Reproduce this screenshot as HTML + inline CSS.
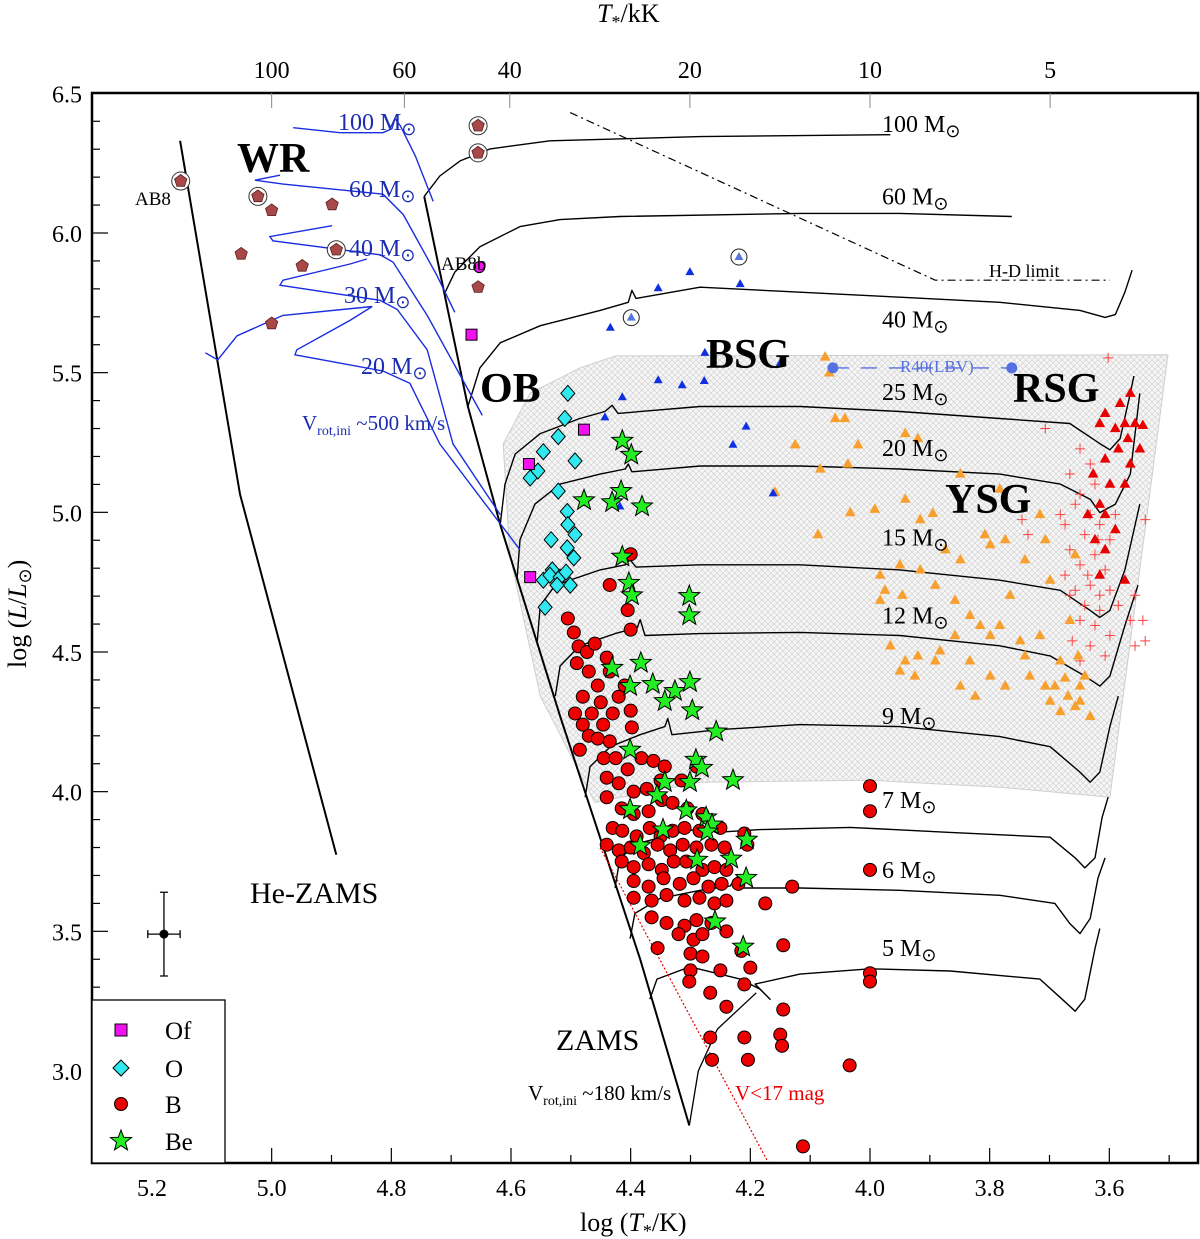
<!DOCTYPE html>
<html><head><meta charset="utf-8"><title>HR diagram</title>
<style>
html,body{margin:0;padding:0;background:#fff;}
svg{display:block;font-family:"Liberation Serif",serif;}
</style></head>
<body>
<svg id="chart" width="1200" height="1239" viewBox="0 0 1200 1239" xmlns="http://www.w3.org/2000/svg">
<defs>
<pattern id="hatch" width="6" height="6" patternUnits="userSpaceOnUse">
<rect width="6" height="6" fill="#f6f6f6"/>
<path d="M0,0L6,6M6,0L0,6" stroke="#d4d4d4" stroke-width="0.7"/>
</pattern>
<clipPath id="plotclip"><rect x="92" y="93" width="1106" height="1070"/></clipPath>
</defs>
<g id="plot" clip-path="url(#plotclip)"></g>
<g id="axes"></g>
<g id="labels"></g>
</svg>
<script>
// ---------- data (logT, logL) ----------
var ticksX = [5.2, 5.0, 4.8, 4.6, 4.4, 4.2, 4.0, 3.8, 3.6];
var ticksXLabels = ["5.2","5.0","4.8","4.6","4.4","4.2","4.0","3.8","3.6"];
var ticksY = [6.5, 6.0, 5.5, 5.0, 4.5, 4.0, 3.5, 3.0];
var ticksYLabels = ["6.5","6.0","5.5","5.0","4.5","4.0","3.5","3.0"];
var topTicksK = [100, 60, 40, 20, 10, 5];

var hatchRegion = [[4.425,5.560],[3.502,5.564],[3.599,3.980],[3.783,4.016],[4.0,4.041],[4.284,4.034],[4.460,3.962],[4.551,4.342],[4.602,4.848],[4.613,5.245],[4.568,5.426],[4.485,5.517]];

var zams = [[4.745,6.131],[4.672,5.379],[4.618,4.956],[4.518,4.27],[4.384,3.40],[4.302,2.805]];
var heZams = [[5.153,6.33],[5.053,5.065],[4.892,3.774]];
var lowTrack = [[4.302,2.805],[4.287,3.0],[4.255,3.15],[4.19,3.28]];

var trackNames = ["100","60","40","25","20","15","12","9","7","6","5"];
var tr100 = [[4.745,6.131],[4.719,6.204],[4.685,6.258],[4.635,6.301],[4.535,6.330],[4.284,6.345],[3.966,6.352]];
var tr60 = [[4.710,5.788],[4.694,5.860],[4.652,5.951],[4.585,6.023],[4.518,6.048],[4.418,6.059],[4.117,6.070],[3.950,6.070],[3.763,6.059]];
var tr40 = [[4.672,5.379],[4.652,5.517],[4.618,5.607],[4.551,5.668],[4.451,5.723],[4.404,5.752],[4.398,5.795],[4.391,5.766],[4.284,5.806],[4.117,5.788],[3.950,5.770],[3.783,5.752],[3.649,5.723],[3.607,5.698],[3.590,5.708],[3.574,5.788],[3.562,5.867]];
var tr25 = [[4.618,4.956],[4.610,5.101],[4.593,5.209],[4.551,5.282],[4.485,5.336],[4.443,5.361],[4.431,5.383],[4.421,5.354],[4.284,5.379],[4.117,5.379],[3.950,5.361],[3.783,5.336],[3.666,5.318],[3.616,5.246],[3.599,5.224],[3.582,5.264],[3.565,5.426],[3.559,5.488]];
var tr20 = [[4.590,4.757],[4.585,4.902],[4.560,5.029],[4.518,5.101],[4.451,5.137],[4.409,5.155],[4.404,5.173],[4.398,5.145],[4.284,5.166],[4.117,5.166],[3.950,5.155],[3.783,5.137],[3.682,5.101],[3.632,5.047],[3.616,4.999],[3.590,5.029],[3.565,5.137],[3.549,5.426]];
var tr15 = [[4.556,4.540],[4.551,4.667],[4.526,4.739],[4.451,4.794],[4.409,4.812],[4.401,4.830],[4.391,4.804],[4.284,4.812],[4.117,4.812],[3.950,4.794],[3.783,4.757],[3.682,4.721],[3.632,4.649],[3.616,4.624],[3.599,4.649],[3.574,4.794],[3.549,5.029]];
var tr12 = [[4.526,4.342],[4.518,4.450],[4.485,4.522],[4.426,4.566],[4.389,4.587],[4.384,4.616],[4.376,4.559],[4.284,4.566],[4.117,4.570],[3.950,4.559],[3.783,4.522],[3.699,4.486],[3.641,4.414],[3.616,4.378],[3.599,4.414],[3.574,4.595],[3.552,4.739]];
var tr9 = [[4.476,3.980],[4.468,4.089],[4.434,4.161],[4.384,4.204],[4.343,4.233],[4.338,4.262],[4.331,4.204],[4.251,4.222],[4.117,4.240],[3.950,4.233],[3.783,4.197],[3.699,4.161],[3.649,4.070],[3.632,4.034],[3.616,4.070],[3.599,4.233],[3.585,4.342]];
var tr7 = [[4.426,3.655],[4.418,3.763],[4.384,3.817],[4.317,3.854],[4.276,3.872],[4.267,3.901],[4.259,3.854],[4.184,3.864],[4.033,3.872],[3.866,3.854],[3.699,3.837],[3.657,3.763],[3.641,3.727],[3.624,3.763],[3.612,3.908],[3.602,3.980]];
var tr6 = [[4.401,3.474],[4.393,3.564],[4.351,3.618],[4.284,3.647],[4.234,3.662],[4.221,3.698],[4.217,3.655],[4.117,3.655],[3.950,3.647],[3.783,3.629],[3.691,3.600],[3.666,3.528],[3.649,3.492],[3.632,3.546],[3.619,3.691],[3.607,3.763]];
var tr5 = [[4.368,3.257],[4.356,3.329],[4.301,3.373],[4.217,3.329],[4.184,3.293],[4.167,3.257],[4.192,3.311],[4.117,3.347],[4.0,3.366],[3.866,3.358],[3.716,3.329],[3.679,3.257],[3.657,3.214],[3.641,3.257],[3.624,3.438],[3.616,3.510]];

var rot100 = [[4.964,6.377],[4.886,6.359],[4.814,6.359],[4.799,6.373],[4.794,6.410],[4.785,6.384],[4.760,6.276],[4.730,6.113]];
var rot60 = [[4.986,6.207],[5.028,6.189],[4.981,6.175],[4.814,6.139],[4.780,6.066],[4.724,5.849],[4.694,5.716]];
var rot40 = [[4.899,6.026],[5.003,5.987],[4.998,5.972],[4.819,5.922],[4.797,5.896],[4.740,5.705],[4.648,5.347]];
var rot30 = [[4.841,5.907],[4.869,5.889],[4.981,5.831],[4.986,5.813],[4.819,5.759],[4.790,5.726],[4.740,5.582],[4.697,5.245],[4.618,4.992]];
var rot20 = [[5.111,5.571],[5.090,5.546],[5.058,5.632],[4.981,5.705],[4.832,5.737],[4.869,5.687],[4.897,5.654],[4.958,5.582],[4.961,5.564],[4.814,5.506],[4.769,5.462],[4.719,5.245],[4.585,4.866]];

var hdLimit = [[4.501,6.431],[3.891,5.831],[3.599,5.831]];
var vLimit = [[4.451,3.799],[4.170,2.672]];

var ofT = [4.666,4.478,4.570,4.568];
var ofL = [5.636,5.296,5.173,4.768];

var oT = [4.505,4.510,4.546,4.521,4.493,4.568,4.521,4.555,4.506,4.505,4.493,4.533,4.506,4.495,4.531,4.546,4.535,4.518,4.508,4.501,4.523,4.543];
var oL = [5.426,5.336,5.217,5.271,5.184,5.123,5.076,5.148,5.003,4.956,4.920,4.902,4.873,4.837,4.794,4.757,4.775,4.768,4.786,4.739,4.739,4.660];

var bT = [4.40,4.435,4.405,4.40,4.505,4.495,4.487,4.473,4.46,4.49,4.47,4.44,4.435,4.455,4.48,4.45,4.42,4.41,4.493,4.48,4.465,4.446,4.43,4.40,4.398,4.47,4.455,4.435,4.485,4.445,4.425,4.405,4.382,4.362,4.343,4.44,4.42,4.395,4.373,4.35,4.315,4.29,4.44,4.415,4.395,4.37,4.348,4.33,4.305,4.28,4.43,4.414,4.39,4.368,4.35,4.33,4.31,4.285,4.25,4.21,4.44,4.42,4.40,4.378,4.355,4.334,4.313,4.29,4.265,4.243,4.205,4.415,4.395,4.37,4.348,4.328,4.307,4.28,4.26,4.24,4.395,4.37,4.345,4.318,4.295,4.27,4.248,4.22,4.395,4.365,4.34,4.31,4.285,4.26,4.24,4.175,4.13,4.365,4.34,4.31,4.29,4.265,4.32,4.295,4.28,4.24,4.355,4.30,4.28,4.215,4.145,4.30,4.25,4.20,4.302,4.267,4.21,4.24,4.145,4.267,4.21,4.15,4.264,4.204,4.147,4.034,4.112,4.0,4.0,4.0,4.0,4.0];
var bL = [4.85,4.74,4.65,4.58,4.62,4.57,4.52,4.50,4.53,4.46,4.43,4.48,4.43,4.38,4.34,4.32,4.34,4.38,4.28,4.24,4.28,4.24,4.28,4.29,4.23,4.20,4.19,4.18,4.15,4.12,4.12,4.08,4.12,4.11,4.09,4.05,4.03,4.00,4.01,4.04,4.04,4.09,3.98,3.94,3.92,3.93,3.97,3.96,3.94,3.92,3.87,3.86,3.84,3.87,3.84,3.86,3.87,3.86,3.87,3.85,3.81,3.79,3.80,3.78,3.81,3.79,3.81,3.80,3.81,3.80,3.81,3.75,3.73,3.74,3.72,3.75,3.75,3.72,3.73,3.72,3.68,3.66,3.69,3.67,3.69,3.66,3.67,3.67,3.62,3.61,3.63,3.61,3.62,3.60,3.61,3.60,3.66,3.55,3.53,3.52,3.54,3.53,3.49,3.47,3.49,3.50,3.44,3.42,3.41,3.43,3.45,3.36,3.36,3.37,3.32,3.28,3.31,3.23,3.22,3.12,3.12,3.13,3.04,3.04,3.09,3.02,2.73,4.02,3.93,3.72,3.35,3.32];

var beT = [4.414,4.399,4.478,4.431,4.416,4.381,4.414,4.403,4.398,4.302,4.302,4.383,4.431,4.401,4.363,4.326,4.301,4.343,4.297,4.257,4.401,4.291,4.281,4.229,4.301,4.343,4.356,4.401,4.307,4.274,4.346,4.264,4.272,4.206,4.384,4.289,4.232,4.207,4.259,4.212];
var beL = [5.256,5.206,5.043,5.036,5.076,5.021,4.841,4.747,4.703,4.700,4.631,4.461,4.443,4.378,4.385,4.360,4.392,4.324,4.291,4.215,4.150,4.114,4.085,4.041,4.034,4.034,3.987,3.937,3.933,3.908,3.864,3.882,3.857,3.828,3.807,3.756,3.760,3.691,3.535,3.445];

var bsgT = [4.434,4.401,4.354,4.301,4.217,4.443,4.414,4.354,4.314,4.277,4.276,4.150,4.207,4.229,4.162,4.418];
var bsgL = [5.661,5.708,5.802,5.860,5.817,5.340,5.412,5.473,5.455,5.470,5.571,5.535,5.307,5.242,5.068,5.021];
var bsgCircledT = [4.219,4.399];
var bsgCircledL = [5.914,5.697];

var lbvT = [4.062,3.763];
var lbvL = [5.517,5.517];

var wrT = [5.152,5.023,5.0,4.899,5.051,4.949,4.892,5.0,4.655,4.655,4.655];
var wrL = [6.186,6.131,6.081,6.102,5.925,5.882,5.940,5.676,5.806,6.384,6.287];
var wrCircled = [1,1,0,0,0,0,1,0,0,1,1];

var ab8bT = [4.653];
var ab8bL = [5.878];

var ysgT = [4.075,4.068,4.058,4.042,4.125,4.020,3.941,3.920,4.083,4.037,3.992,4.159,4.087,4.033,3.941,3.916,3.895,3.849,3.783,3.716,3.799,3.774,3.741,3.849,3.874,3.950,3.983,3.975,3.946,3.916,3.983,3.858,3.833,3.816,3.799,3.783,3.749,3.716,3.858,3.883,3.920,3.941,3.966,3.950,3.925,3.891,3.833,3.799,3.774,3.741,3.733,3.707,3.849,3.824,3.699,3.666,3.682,3.691,3.669,3.657,3.682,3.649,3.641,3.632,3.674,3.652,3.699,3.649,3.766,3.891,3.808,3.707,3.657];
var ysgL = [5.556,5.499,5.336,5.336,5.242,5.242,5.282,5.264,5.155,5.173,5.011,5.072,4.920,4.999,5.047,4.974,4.996,5.137,5.083,4.992,4.884,4.902,4.830,4.830,4.866,4.812,4.775,4.721,4.703,4.794,4.685,4.685,4.631,4.595,4.559,4.595,4.540,4.559,4.559,4.504,4.486,4.468,4.522,4.432,4.414,4.468,4.468,4.414,4.378,4.486,4.414,4.378,4.378,4.342,4.757,4.613,4.468,4.378,4.342,4.305,4.287,4.378,4.414,4.269,4.407,4.486,4.324,4.324,4.703,4.739,4.920,4.902,4.848];

var rsgT = [3.565,3.582,3.607,3.616,3.590,3.574,3.557,3.544,3.569,3.585,3.549,3.607,3.565,3.627,3.599,3.574,3.616,3.636,3.607,3.590,3.624,3.607,3.574,3.616];
var rsgL = [5.426,5.390,5.354,5.318,5.300,5.318,5.318,5.311,5.264,5.227,5.227,5.191,5.173,5.137,5.101,5.101,5.029,4.992,4.992,4.938,4.902,4.866,4.757,4.775];

var crossT = [3.602,3.707,3.649,3.632,3.666,3.624,3.649,3.657,3.632,3.616,3.674,3.641,3.599,3.666,3.624,3.649,3.607,3.674,3.632,3.599,3.666,3.641,3.616,3.649,3.624,3.599,3.662,3.632,3.607,3.649,3.565,3.544,3.557,3.540,3.746,3.736,3.657,3.616,3.636,3.619,3.590,3.682,3.540,3.557,3.585];
var crossL = [5.553,5.300,5.227,5.173,5.137,5.101,5.065,5.029,4.992,4.956,4.956,4.920,4.902,4.866,4.848,4.812,4.794,4.775,4.739,4.721,4.703,4.667,4.649,4.613,4.595,4.559,4.540,4.522,4.486,4.468,4.613,4.613,4.522,4.540,4.974,4.920,4.721,4.703,4.775,4.902,4.992,4.992,4.974,4.703,4.667];

var errT = [5.18]; var errL = [3.49];
var errDx = [0.027]; var errDy = [0.15];

// ---------- axis functions ----------
function X(t){ return 152 + (5.2 - t) * 598.33; }
function Y(l){ return 233 + (6.0 - l) * 279.33; }
var NS = "http://www.w3.org/2000/svg";
function mk(tag, parent, attrs){
  var e = document.createElementNS(NS, tag);
  for (var k in attrs) e.setAttribute(k, attrs[k]);
  parent.appendChild(e); return e;
}
var plot = document.getElementById("plot");
var axes = document.getElementById("axes");
var labels = document.getElementById("labels");
function pathD(pts){ return pts.map(function(p,i){ return (i?"L":"M")+X(p[0]).toFixed(1)+","+Y(p[1]).toFixed(1); }).join(""); }

var el;
// hatched region
el = mk("path", plot, {d: pathD(hatchRegion)+"Z", fill:"url(#hatch)", stroke:"#cfcfcf", "stroke-width":"1"});



// black lines
el = mk("path", plot, {d: pathD(zams), fill:"none", stroke:"#000", "stroke-width":"2"});


el = mk("path", plot, {d: pathD(heZams), fill:"none", stroke:"#000", "stroke-width":"2"});


el = mk("path", plot, {d: pathD(lowTrack), fill:"none", stroke:"#000", "stroke-width":"1.3"});



var tracks = [tr100,tr60,tr40,tr25,tr20,tr15,tr12,tr9,tr7,tr6,tr5];
tracks.forEach(function(tr, i){
  var p = mk("path", plot, {d: pathD(tr), fill:"none", stroke:"#000", "stroke-width":"1.4", "stroke-linejoin":"round"});
  
  
});
var rotTracks = [rot100, rot60, rot40, rot30, rot20];
var rotNames = ["100","60","40","30","20"];
rotTracks.forEach(function(tr, i){
  var p = mk("path", plot, {d: pathD(tr), fill:"none", stroke:"#1a2de0", "stroke-width":"1.4"});
  
  
});
el = mk("path", plot, {d: pathD(hdLimit), fill:"none", stroke:"#000", "stroke-width":"1.2", "stroke-dasharray":"8,4,2,4"});


el = mk("path", plot, {d: pathD(vLimit), fill:"none", stroke:"#e00", "stroke-width":"1.2", "stroke-dasharray":"2,2"});


el = mk("line", plot, {x1:X(lbvT[0]), y1:Y(lbvL[0]), x2:X(lbvT[1]), y2:Y(lbvL[1]), stroke:"#5570e0", "stroke-width":"1.3", "stroke-dasharray":"16,12"});



// markers
function tri(x,y,s){ return "M"+x+","+(y-s)+"L"+(x+s*0.9)+","+(y+s*0.6)+"L"+(x-s*0.9)+","+(y+s*0.6)+"Z"; }
function star(x,y,r){ var d=""; for(var i=0;i<10;i++){ var a=-Math.PI/2+i*Math.PI/5; var rr=i%2?r*0.42:r; d+=(i?"L":"M")+(x+rr*Math.cos(a)).toFixed(1)+","+(y+rr*Math.sin(a)).toFixed(1);} return d+"Z"; }
function pent(x,y,r){ var d=""; for(var i=0;i<5;i++){ var a=-Math.PI/2+i*2*Math.PI/5; d+=(i?"L":"M")+(x+r*Math.cos(a)).toFixed(1)+","+(y+r*Math.sin(a)).toFixed(1);} return d+"Z"; }

crossT.forEach(function(t,i){
  var x=X(t), y=Y(crossL[i]);
  var c = mk("path", plot, {d:"M"+(x-5)+","+y+"H"+(x+5)+"M"+x+","+(y-5)+"V"+(y+5), stroke:"#ff4040", "stroke-width":"1", fill:"none"});
  
  
});
ysgT.forEach(function(t,i){
  var m = mk("path", plot, {d:tri(X(t),Y(ysgL[i]),6), fill:"#f7a030"});
  
  
});
rsgT.forEach(function(t,i){
  var m = mk("path", plot, {d:tri(X(t),Y(rsgL[i]),6), fill:"#e80000"});
  
  
});
bsgT.forEach(function(t,i){
  var m = mk("path", plot, {d:tri(X(t),Y(bsgL[i]),5), fill:"#1030e0"});
  
  
});
bsgCircledT.forEach(function(t,i){
  var x=X(t), y=Y(bsgCircledL[i]);
  var c = mk("circle", plot, {cx:x, cy:y, r:8, fill:"#fff", stroke:"#222", "stroke-width":"1"});
  
  
  var m = mk("path", plot, {d:tri(x,y,5), fill:"#5577dd"});
  
  
});
lbvT.forEach(function(t,i){
  var m = mk("circle", plot, {cx:X(t), cy:Y(lbvL[i]), r:5.5, fill:"#5570e0"});
  
  
});
bT.forEach(function(t,i){
  var m = mk("circle", plot, {cx:X(t), cy:Y(bL[i]), r:6.5, fill:"#ee0000", stroke:"#000", "stroke-width":"1"});
  
  
});
oT.forEach(function(t,i){
  var x=X(t), y=Y(oL[i]);
  var m = mk("path", plot, {d:"M"+x+","+(y-8)+"L"+(x+7)+","+y+"L"+x+","+(y+8)+"L"+(x-7)+","+y+"Z", fill:"#30e8f0", stroke:"#000", "stroke-width":"1"});
  
  
});
ofT.forEach(function(t,i){
  var m = mk("rect", plot, {x:X(t)-5.5, y:Y(ofL[i])-5.5, width:11, height:11, fill:"#f010f0", stroke:"#000", "stroke-width":"1"});
  
  
});
beT.forEach(function(t,i){
  var m = mk("path", plot, {d:star(X(t),Y(beL[i]),11), fill:"#22ee22", stroke:"#000", "stroke-width":"1"});
  
  
});
wrT.forEach(function(t,i){
  var x=X(t), y=Y(wrL[i]);
  if (wrCircled[i]) {
    var c = mk("circle", plot, {cx:x, cy:y, r:9, fill:"#fff", stroke:"#333", "stroke-width":"1"});
    
    
  }
  var m = mk("path", plot, {d:pent(x,y,6.5), fill:"#a84848", stroke:"#5a2020", "stroke-width":"0.8"});
  
  
});
ab8bT.forEach(function(t,i){
  var m = mk("circle", plot, {cx:X(t), cy:Y(ab8bL[i]), r:5.5, fill:"#f010f0", stroke:"#000", "stroke-width":"1"});
  
  
});
// error bar
errT.forEach(function(t,i){
  var x=X(t), y=Y(errL[i]);
  var p = mk("path", plot, {d:"M"+(X(t+errDx[i]))+","+y+"H"+X(t-errDx[i])+"M"+x+","+Y(errL[i]+errDy[i])+"V"+Y(errL[i]-errDy[i])+"M"+(X(t+errDx[i]))+","+(y-4)+"v8M"+X(t-errDx[i])+","+(y-4)+"v8M"+(x-4)+","+Y(errL[i]+errDy[i])+"h8M"+(x-4)+","+Y(errL[i]-errDy[i])+"h8", stroke:"#000", "stroke-width":"1.3", fill:"none"});
  
  
  var c = mk("circle", plot, {cx:x, cy:y, r:4.5, fill:"#000"});
  
  
});

// axes frame
el = mk("rect", axes, {x:92, y:93, width:1106, height:1070, fill:"none", stroke:"#000", "stroke-width":"2.5"});


// bottom ticks
ticksX.forEach(function(t,i){
  var x=X(t);
  var tk = mk("line", axes, {x1:x, y1:1163, x2:x, y2:1148, stroke:"#000", "stroke-width":"1.2"});
  
  
  var mx = X(t-0.1);
  if (mx < 1198) {
    var mt = mk("line", axes, {x1:mx, y1:1163, x2:mx, y2:1155, stroke:"#000", "stroke-width":"1.2"});
    
    
  }
  var mx2 = X(t+0.1);
  if (i===0 && mx2 > 92) {
    var mt2 = mk("line", axes, {x1:mx2, y1:1163, x2:mx2, y2:1155, stroke:"#000", "stroke-width":"1.2"});
    
    
  }
  var lb = mk("text", labels, {x:x, y:1196, "font-size":"24", "text-anchor":"middle"});
  lb.textContent = ticksXLabels[i];
  
  
});
// left ticks
ticksY.forEach(function(l,i){
  var y=Y(l);
  var tk = mk("line", axes, {x1:92, y1:y, x2:108, y2:y, stroke:"#000", "stroke-width":"1.2"});
  
  
  for (var k=1;k<5;k++){
    var my = Y(l-0.1*k);
    if (my < 1162) {
      var mt = mk("line", axes, {x1:92, y1:my, x2:100, y2:my, stroke:"#000", "stroke-width":"1.2"});
      
      
    }
  }
  var lb = mk("text", labels, {x:82, y:y+9, "font-size":"24", "text-anchor":"end"});
  lb.textContent = ticksYLabels[i];
  
  
});
// top ticks (kK)
topTicksK.forEach(function(k){
  var x = X(Math.log10(k*1000));
  var tk = mk("line", axes, {x1:x, y1:93, x2:x, y2:108, stroke:"#888", "stroke-width":"1"});
  
  
  var lb = mk("text", labels, {x:x, y:78, "font-size":"24", "text-anchor":"middle"});
  lb.textContent = String(k);
  
  
});
</script>

<!-- static labels -->
<g font-family="Liberation Serif, serif">
</g>
<script>
var labels2 = document.getElementById("labels");
function txt(x,y,size,str,opts){
  var t = document.createElementNS("http://www.w3.org/2000/svg","text");
  t.setAttribute("x",x); t.setAttribute("y",y); t.setAttribute("font-size",size);
  if(opts){ for(var k in opts) t.setAttribute(k,opts[k]); }
  t.innerHTML = str;
  labels2.appendChild(t);
  return t;
}
var massLabels = ["100","60","40","25","20","15","12","9","7","6","5"];
var massLabelL = [6.39,6.13,5.69,5.43,5.23,4.91,4.63,4.27,3.97,3.72,3.44];
var e;
massLabels.forEach(function(m,i){
  e = txt(882, Y(massLabelL[i])+8, 24, m+' M<tspan font-size="18" dy="5">⊙</tspan>');
  
  
});
var blueLabels = [["100",338,130],["60",349,197],["40",349,256],["30",344,303],["20",361,374]];
blueLabels.forEach(function(b){
  e = txt(b[1], b[2], 24, b[0]+' M<tspan font-size="18" dy="5">⊙</tspan>', {fill:"#1a2db0"});
  
  
});
e = txt(237,172,42,"WR",{"font-weight":"bold"});  
e = txt(480,402,42,"OB",{"font-weight":"bold"});  
e = txt(706,368,42,"BSG",{"font-weight":"bold"});  
e = txt(1013,402,42,"RSG",{"font-weight":"bold"});  
e = txt(945,513,42,"YSG",{"font-weight":"bold"});  
e = txt(250,903,30,"He-ZAMS");  
e = txt(556,1050,30,"ZAMS");  
e = txt(135,205,19,"AB8");  
e = txt(441,270,19,"AB8b");  
e = txt(989,277,18,"H-D limit");  
e = txt(900,372,17,"R40(LBV)",{fill:"#5570e0"});  
e = txt(735,1100,21,"V&lt;17 mag",{fill:"#e00"});  
e = txt(302,430,21,'V<tspan font-size="14" dy="5">rot,ini</tspan><tspan dy="-5"> ~500 km/s</tspan>',{fill:"#1a2db0"});  
e = txt(528,1100,21,'V<tspan font-size="14" dy="5">rot,ini</tspan><tspan dy="-5"> ~180 km/s</tspan>');  
e = txt(580,1231,26,'log (<tspan font-style="italic">T</tspan><tspan font-size="18" dy="6">*</tspan><tspan dy="-6">/K)</tspan>');  
e = txt(597,22,26,'<tspan font-style="italic">T</tspan><tspan font-size="18" dy="6">*</tspan><tspan dy="-6">/kK</tspan>');  
e = txt(0,0,26,'log (<tspan font-style="italic">L</tspan>/<tspan font-style="italic">L</tspan><tspan font-size="18" dy="5">⊙</tspan><tspan dy="-5">)</tspan>',{transform:"translate(26,668) rotate(-90)"});  

// legend
var leg = document.createElementNS("http://www.w3.org/2000/svg","g");


labels2.appendChild(leg);
var lr = document.createElementNS("http://www.w3.org/2000/svg","rect");
lr.setAttribute("x",92); lr.setAttribute("y",1000); lr.setAttribute("width",133); lr.setAttribute("height",163);
lr.setAttribute("fill","#fff"); lr.setAttribute("stroke","#000"); lr.setAttribute("stroke-width","1.3");
 
leg.appendChild(lr);
var legNames = ["Of","O","B","Be"];
var legY = [1030,1068,1104,1141];
var mkS = function(d, fill){ var p=document.createElementNS("http://www.w3.org/2000/svg","path"); p.setAttribute("d",d); p.setAttribute("fill",fill); p.setAttribute("stroke","#000"); p.setAttribute("stroke-width","1"); return p; };
var legShapes = [
  mkS("M115,1024h12v12h-12Z","#f010f0"),
  mkS("M121,1060L129,1068L121,1076L113,1068Z","#30e8f0"),
  mkS("M114.5,1104a6.5,6.5 0 1,0 13,0a6.5,6.5 0 1,0 -13,0Z","#ee0000"),
  mkS(star(121,1141,11),"#22ee22")
];
legNames.forEach(function(n,i){
  var g = document.createElementNS("http://www.w3.org/2000/svg","g");
  
  
  g.appendChild(legShapes[i]);
  var t = document.createElementNS("http://www.w3.org/2000/svg","text");
  t.setAttribute("x",165); t.setAttribute("y",legY[i]+9); t.setAttribute("font-size","25");
  t.textContent = n;
  g.appendChild(t);
  leg.appendChild(g);
});
</script>
</body></html>
